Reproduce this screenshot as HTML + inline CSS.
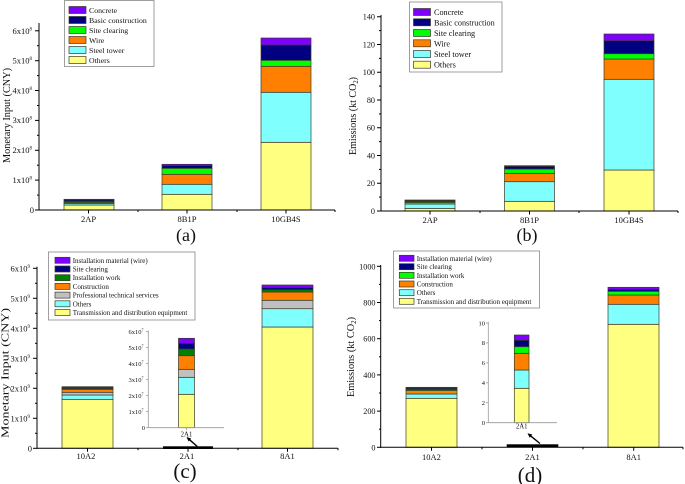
<!DOCTYPE html>
<html><head><meta charset="utf-8"><style>
html,body{margin:0;padding:0;background:#fff;}
svg{display:block;}
text{font-family:"Liberation Serif",serif;fill:#111;}
.b rect{stroke:#3a3a2a;stroke-width:0.7;}
</style></head><body>
<svg width="685" height="484" viewBox="0 0 685 484" xmlns="http://www.w3.org/2000/svg">

<!-- ================= PANEL (a) ================= -->
<g class="b">
<!-- 2AP -->
<rect x="64" y="205" width="50" height="5" fill="#ffff80"/>
<rect x="64" y="203.5" width="50" height="1.5" fill="#80ffff"/>
<rect x="64" y="202.5" width="50" height="1" fill="#ff8000"/>
<rect x="64" y="201.5" width="50" height="1" fill="#00ff00"/>
<rect x="64" y="200" width="50" height="1.5" fill="#000080"/>
<rect x="64" y="199.3" width="50" height="0.7" fill="#8000ff"/>
<!-- 8B1P -->
<rect x="162" y="194.3" width="50" height="15.7" fill="#ffff80"/>
<rect x="162" y="184.3" width="50" height="10" fill="#80ffff"/>
<rect x="162" y="174.3" width="50" height="10" fill="#ff8000"/>
<rect x="162" y="168.3" width="50" height="6" fill="#00ff00"/>
<rect x="162" y="165.5" width="50" height="2.8" fill="#000080"/>
<rect x="162" y="164.3" width="50" height="1.2" fill="#8000ff"/>
<!-- 10GB4S -->
<rect x="261" y="142.3" width="50" height="67.7" fill="#ffff80"/>
<rect x="261" y="92.3" width="50" height="50" fill="#80ffff"/>
<rect x="261" y="66.3" width="50" height="26" fill="#ff8000"/>
<rect x="261" y="60.3" width="50" height="6" fill="#00ff00"/>
<rect x="261" y="45" width="50" height="15.3" fill="#000080"/>
<rect x="261" y="38" width="50" height="7" fill="#8000ff"/>
</g>
<g stroke="#000" stroke-width="1">
<line x1="39" y1="23" x2="39" y2="210.5"/>
<line x1="38.5" y1="210" x2="335" y2="210"/>
<line x1="35" y1="210" x2="39" y2="210"/>
<line x1="35" y1="180.1" x2="39" y2="180.1"/>
<line x1="35" y1="150.3" x2="39" y2="150.3"/>
<line x1="35" y1="120.4" x2="39" y2="120.4"/>
<line x1="35" y1="90.5" x2="39" y2="90.5"/>
<line x1="35" y1="60.7" x2="39" y2="60.7"/>
<line x1="35" y1="30.8" x2="39" y2="30.8"/>
<line x1="37" y1="195.1" x2="39" y2="195.1"/>
<line x1="37" y1="165.2" x2="39" y2="165.2"/>
<line x1="37" y1="135.3" x2="39" y2="135.3"/>
<line x1="37" y1="105.5" x2="39" y2="105.5"/>
<line x1="37" y1="75.6" x2="39" y2="75.6"/>
<line x1="37" y1="45.7" x2="39" y2="45.7"/>
<line x1="88.5" y1="210" x2="88.5" y2="213.5"/>
<line x1="187" y1="210" x2="187" y2="213.5"/>
<line x1="286" y1="210" x2="286" y2="213.5"/>
<line x1="138" y1="210" x2="138" y2="212"/>
<line x1="237" y1="210" x2="237" y2="212"/>
<line x1="335" y1="210" x2="335" y2="212"/>
</g>
<g font-size="8.5" text-anchor="end">
<text x="34" y="213">0</text>
<text x="32" y="183">1x10<tspan font-size="5" dy="-3.5">8</tspan></text>
<text x="32" y="153">2x10<tspan font-size="5" dy="-3.5">8</tspan></text>
<text x="32" y="123">3x10<tspan font-size="5" dy="-3.5">8</tspan></text>
<text x="32" y="93.5">4x10<tspan font-size="5" dy="-3.5">8</tspan></text>
<text x="32" y="63.5">5x10<tspan font-size="5" dy="-3.5">8</tspan></text>
<text x="32" y="34">6x10<tspan font-size="5" dy="-3.5">8</tspan></text>
</g>
<g font-size="8.5" text-anchor="middle">
<text x="88.5" y="222">2AP</text>
<text x="187" y="222">8B1P</text>
<text x="286" y="222">10GB4S</text>
</g>
<text transform="translate(10,115.5) rotate(-90)" font-size="10" text-anchor="middle" textLength="95" lengthAdjust="spacingAndGlyphs">Monetary Input (CNY)</text>
<text x="186" y="241" font-size="18" text-anchor="middle">(a)</text>
<!-- legend a -->
<rect x="64.5" y="0.5" width="89.5" height="66" fill="#fff" stroke="#888" stroke-width="0.8"/>
<g class="b">
<rect x="69" y="6.5" width="17" height="7" fill="#8000ff"/>
<rect x="69" y="16.5" width="17" height="7" fill="#000080"/>
<rect x="69" y="26.5" width="17" height="7" fill="#00ff00"/>
<rect x="69" y="36.5" width="17" height="7" fill="#ff8000"/>
<rect x="69" y="46.5" width="17" height="7" fill="#80ffff"/>
<rect x="69" y="56.5" width="17" height="7" fill="#ffff80"/>
</g>
<g font-size="7.8">
<text x="89" y="12.8">Concrete</text>
<text x="89" y="22.8">Basic construction</text>
<text x="89" y="32.8">Site clearing</text>
<text x="89" y="42.8">Wire</text>
<text x="89" y="52.8">Steel tower</text>
<text x="89" y="62.8">Others</text>
</g>

<!-- ================= PANEL (b) ================= -->
<g class="b">
<!-- 2AP -->
<rect x="405" y="208.5" width="50" height="2.5" fill="#ffff80"/>
<rect x="405" y="204" width="50" height="4.5" fill="#80ffff"/>
<rect x="405" y="202.5" width="50" height="1.5" fill="#ff8000"/>
<rect x="405" y="201.5" width="50" height="1" fill="#00ff00"/>
<rect x="405" y="200.5" width="50" height="1" fill="#000080"/>
<rect x="405" y="200" width="50" height="0.5" fill="#8000ff"/>
<!-- 8B1P -->
<rect x="504.5" y="201.3" width="50" height="9.7" fill="#ffff80"/>
<rect x="504.5" y="181.7" width="50" height="19.6" fill="#80ffff"/>
<rect x="504.5" y="173.3" width="50" height="8.4" fill="#ff8000"/>
<rect x="504.5" y="169" width="50" height="4.3" fill="#00ff00"/>
<rect x="504.5" y="166.3" width="50" height="2.7" fill="#000080"/>
<rect x="504.5" y="165.7" width="50" height="0.6" fill="#8000ff"/>
<!-- 10GB4S -->
<rect x="604" y="170" width="50" height="41" fill="#ffff80"/>
<rect x="604" y="79.3" width="50" height="90.7" fill="#80ffff"/>
<rect x="604" y="59" width="50" height="20.3" fill="#ff8000"/>
<rect x="604" y="53.7" width="50" height="5.3" fill="#00ff00"/>
<rect x="604" y="40.7" width="50" height="13" fill="#000080"/>
<rect x="604" y="34" width="50" height="6.7" fill="#8000ff"/>
</g>
<g stroke="#000" stroke-width="1">
<line x1="381" y1="15" x2="381" y2="211.5"/>
<line x1="380.5" y1="211" x2="678" y2="211"/>
<line x1="377" y1="211" x2="381" y2="211"/>
<line x1="377" y1="183.25" x2="381" y2="183.25"/>
<line x1="377" y1="155.5" x2="381" y2="155.5"/>
<line x1="377" y1="127.75" x2="381" y2="127.75"/>
<line x1="377" y1="100" x2="381" y2="100"/>
<line x1="377" y1="72.25" x2="381" y2="72.25"/>
<line x1="377" y1="44.5" x2="381" y2="44.5"/>
<line x1="377" y1="16.75" x2="381" y2="16.75"/>
<line x1="379" y1="197.1" x2="381" y2="197.1"/>
<line x1="379" y1="169.4" x2="381" y2="169.4"/>
<line x1="379" y1="141.6" x2="381" y2="141.6"/>
<line x1="379" y1="113.9" x2="381" y2="113.9"/>
<line x1="379" y1="86.1" x2="381" y2="86.1"/>
<line x1="379" y1="58.4" x2="381" y2="58.4"/>
<line x1="379" y1="30.6" x2="381" y2="30.6"/>
<line x1="430" y1="211" x2="430" y2="214.5"/>
<line x1="529.5" y1="211" x2="529.5" y2="214.5"/>
<line x1="629" y1="211" x2="629" y2="214.5"/>
<line x1="480" y1="211" x2="480" y2="213"/>
<line x1="579" y1="211" x2="579" y2="213"/>
<line x1="678" y1="211" x2="678" y2="213"/>
</g>
<g font-size="8.2" text-anchor="end">
<text x="375" y="214">0</text>
<text x="375" y="186.2">20</text>
<text x="375" y="158.5">40</text>
<text x="375" y="130.7">60</text>
<text x="375" y="103">80</text>
<text x="375" y="75.2">100</text>
<text x="375" y="47.5">120</text>
<text x="375" y="19.7">140</text>
</g>
<g font-size="8.5" text-anchor="middle">
<text x="430" y="223">2AP</text>
<text x="529.5" y="223">8B1P</text>
<text x="629" y="223">10GB4S</text>
</g>
<text transform="translate(356,116) rotate(-90)" font-size="10.5" text-anchor="middle" textLength="78" lengthAdjust="spacingAndGlyphs">Emissions (kt CO<tspan font-size="7" dy="2">2</tspan><tspan dy="-2">)</tspan></text>
<text x="527" y="241" font-size="18" text-anchor="middle">(b)</text>
<!-- legend b -->
<rect x="409.5" y="2" width="92.5" height="70" fill="#fff" stroke="#888" stroke-width="0.8"/>
<g class="b">
<rect x="413.5" y="8.5" width="17" height="7" fill="#8000ff"/>
<rect x="413.5" y="18.8" width="17" height="7" fill="#000080"/>
<rect x="413.5" y="29.5" width="17" height="7" fill="#00ff00"/>
<rect x="413.5" y="39.8" width="17" height="7" fill="#ff8000"/>
<rect x="413.5" y="50.5" width="17" height="7" fill="#80ffff"/>
<rect x="413.5" y="61.2" width="17" height="7" fill="#ffff80"/>
</g>
<g font-size="8.2">
<text x="434" y="15">Concrete</text>
<text x="434" y="25.3">Basic construction</text>
<text x="434" y="36">Site clearing</text>
<text x="434" y="46.3">Wire</text>
<text x="434" y="57">Steel tower</text>
<text x="434" y="67.7">Others</text>
</g>

<!-- ================= PANEL (c) ================= -->
<g class="b">
<!-- 10A2 -->
<rect x="62" y="399.3" width="51" height="49" fill="#ffff80"/>
<rect x="62" y="395" width="51" height="4.3" fill="#80ffff"/>
<rect x="62" y="392.3" width="51" height="2.7" fill="#c0c0c0"/>
<rect x="62" y="389.3" width="51" height="3" fill="#ff8000"/>
<rect x="62" y="388.5" width="51" height="0.8" fill="#008000"/>
<rect x="62" y="387.5" width="51" height="1" fill="#000080"/>
<rect x="62" y="386.7" width="51" height="0.8" fill="#8000ff"/>
<!-- 8A1 -->
<rect x="262" y="327" width="51" height="121.3" fill="#ffff80"/>
<rect x="262" y="308.7" width="51" height="18.3" fill="#80ffff"/>
<rect x="262" y="300.3" width="51" height="8.4" fill="#c0c0c0"/>
<rect x="262" y="292" width="51" height="8.3" fill="#ff8000"/>
<rect x="262" y="289.7" width="51" height="2.3" fill="#008000"/>
<rect x="262" y="287.7" width="51" height="2" fill="#000080"/>
<rect x="262" y="285" width="51" height="2.7" fill="#8000ff"/>
</g>
<rect x="163" y="446.3" width="50" height="2.7" fill="#000"/>
<g stroke="#000" stroke-width="1">
<line x1="37" y1="266.7" x2="37" y2="448.8"/>
<line x1="36.5" y1="448.3" x2="338" y2="448.3"/>
<line x1="33" y1="448.3" x2="37" y2="448.3"/>
<line x1="33" y1="418.3" x2="37" y2="418.3"/>
<line x1="33" y1="388.3" x2="37" y2="388.3"/>
<line x1="33" y1="358.3" x2="37" y2="358.3"/>
<line x1="33" y1="328.3" x2="37" y2="328.3"/>
<line x1="33" y1="298.3" x2="37" y2="298.3"/>
<line x1="33" y1="268.3" x2="37" y2="268.3"/>
<line x1="35" y1="433.3" x2="37" y2="433.3"/>
<line x1="35" y1="403.3" x2="37" y2="403.3"/>
<line x1="35" y1="373.3" x2="37" y2="373.3"/>
<line x1="35" y1="343.3" x2="37" y2="343.3"/>
<line x1="35" y1="313.3" x2="37" y2="313.3"/>
<line x1="35" y1="283.3" x2="37" y2="283.3"/>
<line x1="87.5" y1="448.3" x2="87.5" y2="451.8"/>
<line x1="188" y1="448.3" x2="188" y2="451.8"/>
<line x1="287.5" y1="448.3" x2="287.5" y2="451.8"/>
<line x1="138" y1="448.3" x2="138" y2="450.3"/>
<line x1="238" y1="448.3" x2="238" y2="450.3"/>
<line x1="338" y1="448.3" x2="338" y2="450.3"/>
</g>
<g font-size="8.5" text-anchor="end">
<text x="32" y="451.3">0</text>
<text x="30" y="421.3">1x10<tspan font-size="5" dy="-3.5">9</tspan></text>
<text x="30" y="391.3">2x10<tspan font-size="5" dy="-3.5">9</tspan></text>
<text x="30" y="361.3">3x10<tspan font-size="5" dy="-3.5">9</tspan></text>
<text x="30" y="331.3">4x10<tspan font-size="5" dy="-3.5">9</tspan></text>
<text x="30" y="301.3">5x10<tspan font-size="5" dy="-3.5">9</tspan></text>
<text x="30" y="271.3">6x10<tspan font-size="5" dy="-3.5">9</tspan></text>
</g>
<g font-size="8.5" text-anchor="middle">
<text x="86" y="459">10A2</text>
<text x="187" y="459">2A1</text>
<text x="287.5" y="459">8A1</text>
</g>
<text transform="translate(8.5,373) rotate(-90)" font-size="11" text-anchor="middle" textLength="130" lengthAdjust="spacingAndGlyphs">Monetary Input (CNY)</text>
<text x="185" y="478" font-size="21" text-anchor="middle">(c)</text>
<!-- inset c -->
<g class="b">
<rect x="178.5" y="394.3" width="16" height="33.4" fill="#ffff80"/>
<rect x="178.5" y="377.3" width="16" height="17" fill="#80ffff"/>
<rect x="178.5" y="369.3" width="16" height="8" fill="#c0c0c0"/>
<rect x="178.5" y="355.7" width="16" height="13.6" fill="#ff8000"/>
<rect x="178.5" y="349" width="16" height="6.7" fill="#008000"/>
<rect x="178.5" y="343.3" width="16" height="5.7" fill="#000080"/>
<rect x="178.5" y="338.3" width="16" height="5" fill="#8000ff"/>
</g>
<g stroke="#999" stroke-width="0.8">
<line x1="148.3" y1="330.5" x2="148.3" y2="427.7"/>
<line x1="148.3" y1="427.7" x2="224" y2="427.7"/>
<line x1="146" y1="427.7" x2="148.3" y2="427.7"/>
<line x1="146" y1="411.7" x2="148.3" y2="411.7"/>
<line x1="146" y1="395.7" x2="148.3" y2="395.7"/>
<line x1="146" y1="379.7" x2="148.3" y2="379.7"/>
<line x1="146" y1="363.7" x2="148.3" y2="363.7"/>
<line x1="146" y1="347.7" x2="148.3" y2="347.7"/>
<line x1="146" y1="331.7" x2="148.3" y2="331.7"/>
<line x1="186.5" y1="427.7" x2="186.5" y2="430"/>
</g>
<g font-size="6.5" text-anchor="end">
<text x="145" y="430">0</text>
<text x="143.5" y="414">1x10<tspan font-size="4" dy="-2.5">7</tspan></text>
<text x="143.5" y="398">2x10<tspan font-size="4" dy="-2.5">7</tspan></text>
<text x="143.5" y="382">3x10<tspan font-size="4" dy="-2.5">7</tspan></text>
<text x="143.5" y="366">4x10<tspan font-size="4" dy="-2.5">7</tspan></text>
<text x="143.5" y="350">5x10<tspan font-size="4" dy="-2.5">7</tspan></text>
<text x="143.5" y="334">6x10<tspan font-size="4" dy="-2.5">7</tspan></text>
</g>
<text x="186.5" y="436.5" font-size="6.8" text-anchor="middle">2A1</text>
<line x1="197.3" y1="446.5" x2="189.5" y2="439.7" stroke="#000" stroke-width="1.4"/>
<polygon points="186.5,437 191.2,438.5 188.6,441.5" fill="#000"/>
<!-- legend c -->
<rect x="48.5" y="252" width="146.5" height="68" fill="#fff" stroke="#888" stroke-width="0.8"/>
<g class="b">
<rect x="55" y="257.3" width="15" height="6" fill="#8000ff"/>
<rect x="55" y="266" width="15" height="6" fill="#000080"/>
<rect x="55" y="274.7" width="15" height="6" fill="#008000"/>
<rect x="55" y="283.4" width="15" height="6" fill="#ff8000"/>
<rect x="55" y="292.1" width="15" height="6" fill="#c0c0c0"/>
<rect x="55" y="300.8" width="15" height="6" fill="#80ffff"/>
<rect x="55" y="309.5" width="15" height="6" fill="#ffff80"/>
</g>
<g font-size="7">
<text x="72.7" y="262.8">Installation material (wire)</text>
<text x="72.7" y="271.5">Site clearing</text>
<text x="72.7" y="280.2">Installation work</text>
<text x="72.7" y="288.9">Construction</text>
<text x="72.7" y="297.6">Professional technical services</text>
<text x="72.7" y="306.3">Others</text>
<text x="72.7" y="315">Transmission and distribution equipment</text>
</g>

<!-- ================= PANEL (d) ================= -->
<g class="b">
<!-- 10A2 -->
<rect x="406" y="398.3" width="51" height="49" fill="#ffff80"/>
<rect x="406" y="394" width="51" height="4.3" fill="#80ffff"/>
<rect x="406" y="390.5" width="51" height="3.5" fill="#ff8000"/>
<rect x="406" y="389.5" width="51" height="1" fill="#00ff00"/>
<rect x="406" y="388.3" width="51" height="1.2" fill="#000080"/>
<rect x="406" y="387.3" width="51" height="1" fill="#8000ff"/>
<!-- 8A1 -->
<rect x="608" y="324.3" width="51" height="123" fill="#ffff80"/>
<rect x="608" y="304.3" width="51" height="20" fill="#80ffff"/>
<rect x="608" y="295" width="51" height="9.3" fill="#ff8000"/>
<rect x="608" y="291.3" width="51" height="3.7" fill="#00ff00"/>
<rect x="608" y="289.3" width="51" height="2" fill="#000080"/>
<rect x="608" y="287.3" width="51" height="2" fill="#8000ff"/>
</g>
<rect x="506.7" y="444.3" width="51.6" height="3" fill="#000"/>
<g stroke="#000" stroke-width="1">
<line x1="380.7" y1="265" x2="380.7" y2="447.8"/>
<line x1="380.2" y1="447.3" x2="683" y2="447.3"/>
<line x1="377" y1="447.3" x2="380.7" y2="447.3"/>
<line x1="377" y1="411.1" x2="380.7" y2="411.1"/>
<line x1="377" y1="374.9" x2="380.7" y2="374.9"/>
<line x1="377" y1="338.7" x2="380.7" y2="338.7"/>
<line x1="377" y1="302.5" x2="380.7" y2="302.5"/>
<line x1="377" y1="266.3" x2="380.7" y2="266.3"/>
<line x1="379" y1="429.2" x2="380.7" y2="429.2"/>
<line x1="379" y1="393" x2="380.7" y2="393"/>
<line x1="379" y1="356.8" x2="380.7" y2="356.8"/>
<line x1="379" y1="320.6" x2="380.7" y2="320.6"/>
<line x1="379" y1="284.4" x2="380.7" y2="284.4"/>
<line x1="431.5" y1="447.3" x2="431.5" y2="450.8"/>
<line x1="532.5" y1="447.3" x2="532.5" y2="450.8"/>
<line x1="633.7" y1="447.3" x2="633.7" y2="450.8"/>
<line x1="482" y1="447.3" x2="482" y2="449.3"/>
<line x1="583" y1="447.3" x2="583" y2="449.3"/>
<line x1="683" y1="447.3" x2="683" y2="449.3"/>
</g>
<g font-size="8.2" text-anchor="end">
<text x="375.5" y="450.3">0</text>
<text x="375.5" y="414.1">200</text>
<text x="375.5" y="377.9">400</text>
<text x="375.5" y="341.7">600</text>
<text x="375.5" y="305.5">800</text>
<text x="375.5" y="269.3">1000</text>
</g>
<g font-size="8.5" text-anchor="middle">
<text x="431.5" y="460">10A2</text>
<text x="532.5" y="460">2A1</text>
<text x="633.7" y="460">8A1</text>
</g>
<text transform="translate(354,357) rotate(-90)" font-size="10.5" text-anchor="middle" textLength="80" lengthAdjust="spacingAndGlyphs">Emissions (kt CO<tspan font-size="7" dy="2">2</tspan><tspan dy="-2">)</tspan></text>
<text x="530" y="482" font-size="21" text-anchor="middle">(d)</text>
<!-- inset d -->
<g class="b">
<rect x="514.3" y="388.3" width="14.7" height="34.4" fill="#ffff80"/>
<rect x="514.3" y="370" width="14.7" height="18.3" fill="#80ffff"/>
<rect x="514.3" y="353.3" width="14.7" height="16.7" fill="#ff8000"/>
<rect x="514.3" y="346.7" width="14.7" height="6.6" fill="#00ff00"/>
<rect x="514.3" y="340.3" width="14.7" height="6.4" fill="#000080"/>
<rect x="514.3" y="335" width="14.7" height="5.3" fill="#8000ff"/>
</g>
<g stroke="#999" stroke-width="0.8">
<line x1="488.3" y1="321.7" x2="488.3" y2="422.7"/>
<line x1="488.3" y1="422.7" x2="557" y2="422.7"/>
<line x1="486" y1="422.7" x2="488.3" y2="422.7"/>
<line x1="486" y1="402.8" x2="488.3" y2="402.8"/>
<line x1="486" y1="382.8" x2="488.3" y2="382.8"/>
<line x1="486" y1="362.9" x2="488.3" y2="362.9"/>
<line x1="486" y1="342.9" x2="488.3" y2="342.9"/>
<line x1="486" y1="323" x2="488.3" y2="323"/>
<line x1="521.7" y1="422.7" x2="521.7" y2="425"/>
</g>
<g font-size="6.5" text-anchor="end">
<text x="485" y="425">0</text>
<text x="485" y="405.1">2</text>
<text x="485" y="385.1">4</text>
<text x="485" y="365.2">6</text>
<text x="485" y="345.2">8</text>
<text x="485" y="325.3">10</text>
</g>
<text x="521.7" y="428.5" font-size="6.8" text-anchor="middle">2A1</text>
<line x1="540" y1="443.5" x2="530.5" y2="435.8" stroke="#000" stroke-width="1.4"/>
<polygon points="527.5,433.3 532.3,434.5 529.7,437.7" fill="#000"/>
<!-- legend d -->
<rect x="393.5" y="251" width="146" height="57" fill="#fff" stroke="#888" stroke-width="0.8"/>
<g class="b">
<rect x="399.3" y="255.3" width="14.7" height="6" fill="#8000ff"/>
<rect x="399.3" y="263.7" width="14.7" height="6" fill="#000080"/>
<rect x="399.3" y="272.3" width="14.7" height="6" fill="#00ff00"/>
<rect x="399.3" y="281" width="14.7" height="6" fill="#ff8000"/>
<rect x="399.3" y="289.7" width="14.7" height="6" fill="#80ffff"/>
<rect x="399.3" y="298.3" width="14.7" height="6" fill="#ffff80"/>
</g>
<g font-size="7">
<text x="416.7" y="260.8">Installation material (wire)</text>
<text x="416.7" y="269.2">Site clearing</text>
<text x="416.7" y="277.8">Installation work</text>
<text x="416.7" y="286.5">Construction</text>
<text x="416.7" y="295.2">Others</text>
<text x="416.7" y="303.8">Transmission and distribution equipment</text>
</g>
</svg>
</body></html>
